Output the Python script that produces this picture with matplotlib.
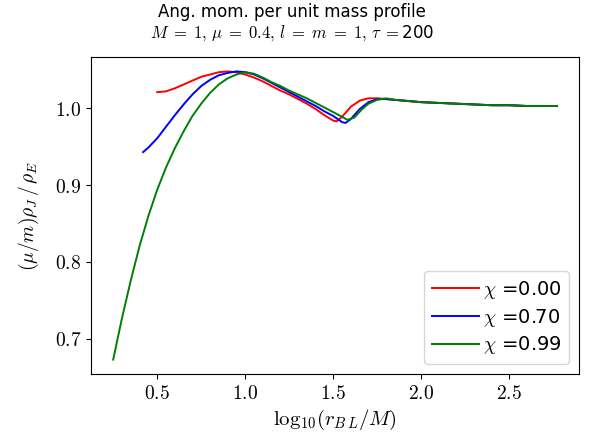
import matplotlib
matplotlib.use('Agg')
import matplotlib.pyplot as plt
from matplotlib.ticker import FuncFormatter

plt.rcParams['mathtext.fontset'] = 'cm'

# Data: log10(r_BL/M) vs (mu/m) rho_J / rho_E
x_red = [0.50, 0.55, 0.60, 0.65, 0.70, 0.75, 0.80, 0.85, 0.90, 0.95, 1.00, 1.05,
         1.10, 1.15, 1.20, 1.25, 1.30, 1.35, 1.40, 1.45, 1.50, 1.52, 1.55, 1.60,
         1.65, 1.70, 1.75, 1.80]
y_red = [1.021, 1.022, 1.026, 1.031, 1.036, 1.041, 1.044, 1.047, 1.048, 1.047, 1.044, 1.040,
         1.035, 1.029, 1.023, 1.018, 1.012, 1.006, 0.999, 0.991, 0.984, 0.983, 0.989, 1.002,
         1.010, 1.013, 1.013, 1.012]

x_blue = [0.42, 0.45, 0.50, 0.55, 0.60, 0.65, 0.70, 0.75, 0.80, 0.85, 0.90, 0.95,
          1.00, 1.05, 1.10, 1.15, 1.20, 1.25, 1.30, 1.35, 1.40, 1.45, 1.50, 1.55,
          1.57, 1.60, 1.65, 1.70, 1.75, 1.80]
y_blue = [0.943, 0.949, 0.961, 0.976, 0.991, 1.005, 1.018, 1.029, 1.037, 1.043, 1.046, 1.048,
          1.047, 1.044, 1.039, 1.033, 1.027, 1.021, 1.015, 1.009, 1.003, 0.996, 0.990, 0.982,
          0.981, 0.986, 0.999, 1.008, 1.012, 1.012]

x_green = [0.25, 0.30, 0.35, 0.40, 0.45, 0.50, 0.55, 0.60, 0.65, 0.70, 0.75, 0.80,
           0.85, 0.90, 0.95, 1.00, 1.05, 1.10, 1.15, 1.20, 1.25, 1.30, 1.35, 1.40,
           1.45, 1.50, 1.55, 1.58, 1.62, 1.66, 1.70, 1.75, 1.80]
y_green = [0.673, 0.727, 0.776, 0.821, 0.860, 0.894, 0.923, 0.948, 0.970, 0.990, 1.006, 1.020,
           1.031, 1.039, 1.044, 1.047, 1.045, 1.040, 1.034, 1.029, 1.023, 1.018, 1.013, 1.007,
           1.001, 0.995, 0.989, 0.985, 0.988, 0.998, 1.006, 1.011, 1.013]

# common large-radius tail
x_tail = [1.85, 1.90, 1.95, 2.00, 2.10, 2.20, 2.30, 2.40, 2.50, 2.60, 2.70, 2.77]
y_tail = [1.011, 1.010, 1.009, 1.008, 1.007, 1.006, 1.005, 1.004, 1.004, 1.003, 1.003, 1.003]

chis = ['0.00', '0.70', '0.99']
colors = ['r', 'b', 'g']

fig = plt.figure(figsize=(5.96, 4.43), dpi=100)
ax = fig.add_axes([0.1527, 0.1558, 0.8188, 0.7155])

for xs, ys, chi, c in zip([x_red, x_blue, x_green], [y_red, y_blue, y_green], chis, colors):
    ax.plot(xs + x_tail, ys + y_tail, color=c, lw=1.4, solid_joinstyle='round',
            label=r'$\chi$ =' + chi)

ax.set_xticks([0.5, 1.0, 1.5, 2.0, 2.5])
ax.set_yticks([0.7, 0.8, 0.9, 1.0])
fmt = FuncFormatter(lambda v, p: r'$%.1f$' % v)
ax.xaxis.set_major_formatter(fmt)
ax.yaxis.set_major_formatter(fmt)
ax.tick_params(labelsize=14)

ax.set_xlabel(r'$\mathrm{log}_{10}(r_{B\,L}/M)$', fontsize=15, labelpad=4)
ax.set_ylabel(r'$(\mu/m)\rho_J\,/\,\rho_E$', fontsize=14, labelpad=10)
fig.text(0.49, 0.993, 'Ang. mom. per unit mass profile\n'
         + r'$M\;=\;1,\,\mu\;=\;0.4,\,l\;=\;m\;=\;1,\,\tau\;=$' + '200',
         fontsize=12, ha='center', va='top', linespacing=1.1)
ax.legend(loc='lower right', fontsize=14, handlelength=2.4, handletextpad=0.2,
          labelspacing=0.3, borderpad=0.4)

fig.savefig('out.png', dpi=100)
